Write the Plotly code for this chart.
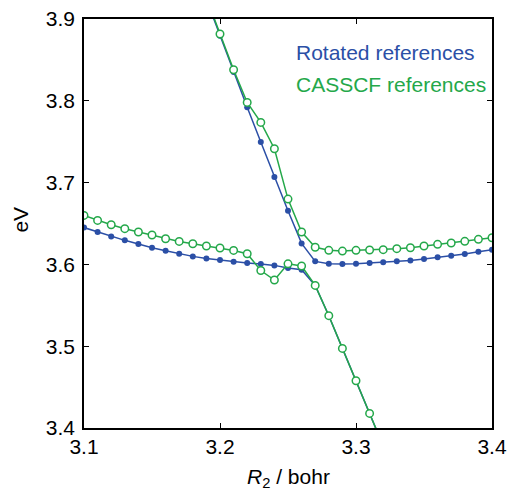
import plotly.graph_objects as go

# R2 grid (bohr)
r_low = [3.10, 3.11, 3.12, 3.13, 3.14, 3.15, 3.16, 3.17, 3.18, 3.19, 3.20, 3.21,
         3.22, 3.23, 3.24, 3.25, 3.26, 3.27, 3.28, 3.29, 3.30, 3.31, 3.32]
r_up = [3.19, 3.20, 3.21, 3.22, 3.23, 3.24, 3.25, 3.26, 3.27, 3.28, 3.29, 3.30,
        3.31, 3.32, 3.33, 3.34, 3.35, 3.36, 3.37, 3.38, 3.39, 3.40]

# rotated references (eV)
rot_low = [3.645, 3.6396, 3.634, 3.6294, 3.625, 3.6204, 3.6168, 3.613, 3.6098, 3.6073,
           3.6054, 3.6033, 3.6017, 3.6005, 3.5988, 3.5956, 3.5935, 3.5743, 3.5373,
           3.4973, 3.4578, 3.4178, 3.378]
rot_up = [3.924, 3.8796, 3.8352, 3.792, 3.7496, 3.7068, 3.6655, 3.6257, 3.6037, 3.6009,
          3.6004, 3.6009, 3.6017, 3.6025, 3.6037, 3.6049, 3.6066, 3.6086, 3.6106,
          3.6127, 3.6155, 3.618]

# CASSCF references (eV)
cas_low = [3.6599, 3.6538, 3.6485, 3.6437, 3.6396, 3.6359, 3.6314, 3.6281, 3.6253, 3.6225,
           3.620, 3.6171, 3.613, 3.5925, 3.5809, 3.6007, 3.598, 3.5743, 3.5373,
           3.4973, 3.4578, 3.4178, 3.378]
cas_up = [3.926, 3.8817, 3.838, 3.798, 3.7736, 3.7414, 3.6798, 3.6396, 3.621, 3.6172,
          3.6163, 3.6172, 3.6176, 3.618, 3.6192, 3.6204, 3.6225, 3.6245, 3.6261,
          3.6282, 3.6306, 3.6326]

xticks = [3.1, 3.2, 3.3, 3.4]
yticks = [3.4, 3.5, 3.6, 3.7, 3.8, 3.9]

blue = "#2b4fa6"
green = "#24a84a"
fs = 21

fig = go.Figure()
for x, y in [(r_low, rot_low), (r_up, rot_up)]:
    fig.add_trace(go.Scatter(x=x, y=y, mode="lines+markers",
                             line=dict(color=blue, width=1.5),
                             marker=dict(color=blue, size=6),
                             showlegend=False))
for x, y in [(r_low, cas_low), (r_up, cas_up)]:
    fig.add_trace(go.Scatter(x=x, y=y, mode="lines+markers",
                             line=dict(color=green, width=1.5),
                             marker=dict(color="white", size=7.5,
                                         line=dict(color=green, width=1.5)),
                             showlegend=False))

# in-plot labels instead of a legend box
fig.add_annotation(x=0.515, y=0.917, xref="paper", yref="paper", xanchor="left",
                   yanchor="middle", text="Rotated references", showarrow=False,
                   font=dict(color=blue, size=fs))
fig.add_annotation(x=0.515, y=0.839, xref="paper", yref="paper", xanchor="left",
                   yanchor="middle", text="CASSCF references", showarrow=False,
                   font=dict(color=green, size=fs))
# axis titles
fig.add_annotation(x=0.5, y=-0.122, xref="paper", yref="paper", xanchor="center",
                   yanchor="middle", text="<i>R</i><sub>2</sub> / bohr",
                   showarrow=False, font=dict(size=fs))
fig.add_annotation(x=-0.155, y=0.509, xref="paper", yref="paper", xanchor="center",
                   yanchor="middle", textangle=-90, text="eV", showarrow=False,
                   font=dict(size=fs))

axis = dict(showline=True, linecolor="black", linewidth=1.5, mirror="ticks",
            ticks="inside", ticklen=5, tickcolor="black", tickwidth=1,
            showgrid=False, zeroline=False, automargin=False,
            ticklabeloverflow="allow", tickfont=dict(size=fs, color="black"))
fig.update_xaxes(range=[3.1, 3.4], tickvals=xticks,
                 ticktext=["%.1f" % v for v in xticks], ticklabelstandoff=-1, **axis)
fig.update_yaxes(range=[3.4, 3.9], tickvals=yticks,
                 ticktext=["%.1f" % v for v in yticks], ticklabelstandoff=3, **axis)
fig.update_layout(width=509, height=490, plot_bgcolor="white", paper_bgcolor="white",
                  font=dict(family="Liberation Sans, Arial, sans-serif", color="black"),
                  margin=dict(l=84, r=17, t=19, b=62))
# drop the default 8px page margin so the figure fills the window exactly
fig.write_html("out.html", config={"displayModeBar": False},
               post_script="document.body.style.margin='0';document.body.style.overflow='hidden';")
